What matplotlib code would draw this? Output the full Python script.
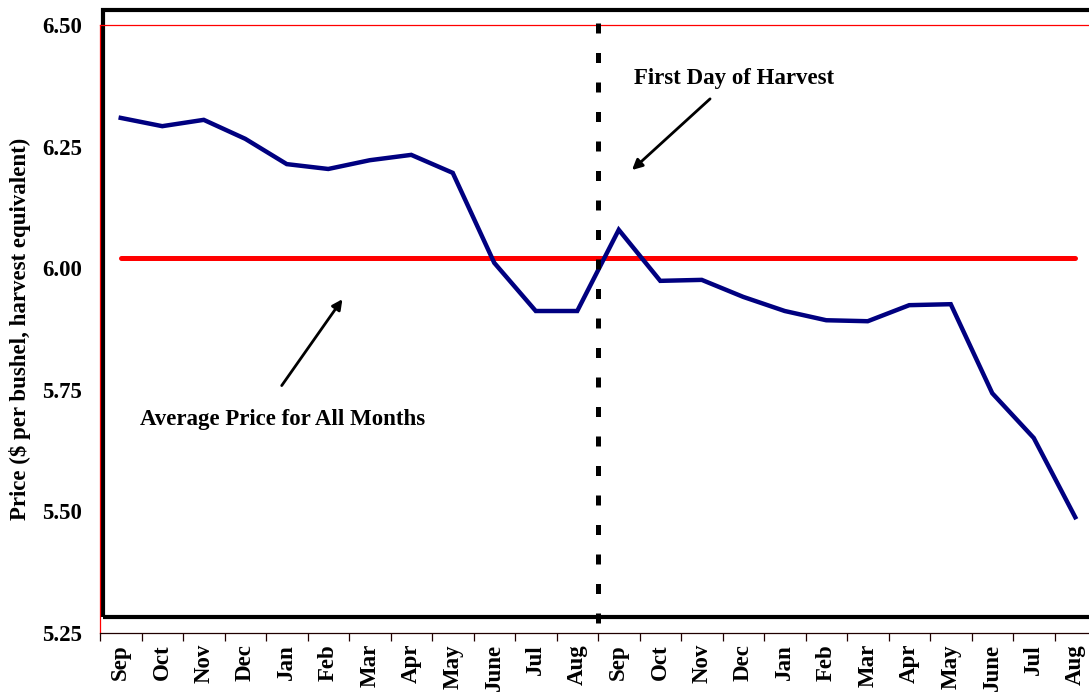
import matplotlib
matplotlib.use("Agg")
import matplotlib.pyplot as plt
from matplotlib.patches import Rectangle
import numpy as np

months = ["Sep", "Oct", "Nov", "Dec", "Jan", "Feb", "Mar", "Apr", "May", "June", "Jul", "Aug",
          "Sep", "Oct", "Nov", "Dec", "Jan", "Feb", "Mar", "Apr", "May", "June", "Jul", "Aug"]
prices = [6.309, 6.292, 6.305, 6.266, 6.214, 6.204, 6.222, 6.233, 6.196, 6.011, 5.912, 5.912,
          6.079, 5.974, 5.976, 5.941, 5.912, 5.893, 5.891, 5.924, 5.926, 5.743, 5.651, 5.488]
average_price = 6.02
yticks = [5.25, 5.50, 5.75, 6.00, 6.25, 6.50]
ytick_labels = ["5.25", "5.50", "5.75", "6.00", "6.25", "6.50"]

plt.rcParams['font.family'] = ['Liberation Serif', 'DejaVu Serif']
plt.rcParams['font.weight'] = 'bold'
FS = 16.5

fig = plt.figure(figsize=(10.89, 6.96), dpi=100)
ax = fig.add_axes([100/1089, 63/696, 996/1089, 608/696])

x = np.arange(len(months)) + 0.5
ax.set_xlim(0, len(months))
ax.set_ylim(5.25, 6.50)

# plot-area border (thick black)
ax.add_patch(Rectangle((0.072, 5.283), 24.5, 6.531 - 5.283, fill=False,
                       edgecolor='black', linewidth=3.0, clip_on=False, zorder=1))

ax.plot(x, [average_price] * len(months), color='#ff0000', linewidth=3.6,
        solid_capstyle='round', zorder=3)
ax.plot(x, prices, color='#000080', linewidth=3.2, solid_joinstyle='miter', zorder=4)

ax.plot([12, 12], [6.505, 5.25], color='black', linewidth=3.6,
        dashes=(2.0, 3.9), zorder=5, clip_on=False)

# spines
ax.spines['left'].set_color('#ff0000')
ax.spines['left'].set_linewidth(0.9)
ax.spines['top'].set_color('#ff0000')
ax.spines['top'].set_linewidth(0.9)
ax.spines['right'].set_visible(False)
ax.spines['bottom'].set_color('#200000')
ax.spines['bottom'].set_linewidth(0.9)

ax.set_yticks(yticks)
ax.set_yticklabels(ytick_labels, fontsize=FS, fontweight='bold')
ax.tick_params(axis='y', length=0, pad=13)

ax.set_xticks(x)
ax.set_xticklabels(months, rotation=90, fontsize=FS, fontweight='bold', va='top')
ax.set_xticks(np.arange(0, len(months) + 1), minor=True)
ax.tick_params(axis='x', which='major', length=0, pad=8)
ax.tick_params(axis='x', which='minor', length=5.8, width=0.9, color='#200000', direction='out')

ax.set_ylabel("Price ($ per bushel, harvest equivalent)", fontsize=FS, fontweight='bold',
              va='center')
ax.yaxis.set_label_coords(-80/996, 0.5)

ax.annotate("", xy=(12.77, 6.198), xytext=(14.75, 6.352),
            arrowprops=dict(arrowstyle='-|>', color='black', lw=2.0, mutation_scale=15))
ax.text(12.87, 6.391, "First Day of Harvest", fontsize=FS, fontweight='bold',
        ha='left', va='center')

ax.annotate("", xy=(5.88, 5.941), xytext=(4.34, 5.754),
            arrowprops=dict(arrowstyle='-|>', color='black', lw=2.0, mutation_scale=15))
ax.text(0.964, 5.688, "Average Price for All Months", fontsize=FS, fontweight='bold',
        ha='left', va='center')

fig.savefig("out.png", dpi=100)
